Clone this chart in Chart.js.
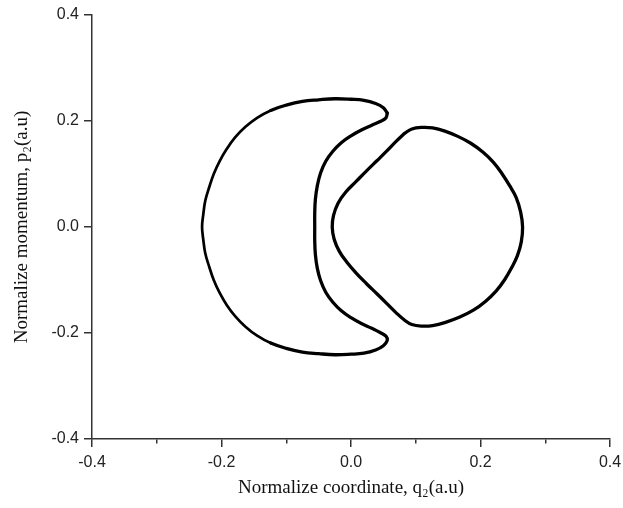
<!DOCTYPE html>
<html>
<head>
<meta charset="utf-8">
<script src="https://cdn.jsdelivr.net/npm/chart.js@4/dist/chart.umd.min.js"></script>
<style>
  html, body { margin: 0; padding: 0; background: #fff; }
  #wrap { width: 623px; height: 508px; }
</style>
</head>
<body>
<div id="wrap"><canvas id="phaseChart"></canvas></div>
<script>
// crescent-shaped orbit (left), q2 and p2, starting at the upper tip
const crescentQ = [
  0.056, 0.050, 0.038, 0.020, 0.000, -0.025, -0.050, -0.075, -0.100, -0.124,
  -0.145, -0.163, -0.179, -0.192, -0.203, -0.212, -0.219, -0.225, -0.228, -0.230,
  -0.228, -0.225, -0.219, -0.212, -0.203, -0.192, -0.179, -0.163, -0.145, -0.124,
  -0.100, -0.075, -0.050, -0.025, 0.000, 0.020, 0.038, 0.050, 0.056, 0.054,
  0.045, 0.032, 0.016, 0.000, -0.015, -0.028, -0.039, -0.047, -0.052, -0.055,
  -0.056, -0.056, -0.056, -0.055, -0.052, -0.047, -0.039, -0.028, -0.015, 0.000,
  0.016, 0.032, 0.045, 0.054, 0.056
];
const crescentP = [
  0.215, 0.225, 0.233, 0.239, 0.241, 0.242, 0.240, 0.237, 0.230, 0.220,
  0.206, 0.189, 0.169, 0.147, 0.124, 0.100, 0.075, 0.050, 0.025, 0.000,
  -0.025, -0.050, -0.075, -0.100, -0.124, -0.147, -0.168, -0.188, -0.205, -0.219,
  -0.229, -0.236, -0.239, -0.241, -0.240, -0.238, -0.232, -0.224, -0.214, -0.206,
  -0.199, -0.191, -0.182, -0.171, -0.158, -0.142, -0.123, -0.101, -0.078, -0.052,
  -0.026, 0.000, 0.026, 0.052, 0.078, 0.102, 0.124, 0.143, 0.159, 0.172,
  0.183, 0.192, 0.199, 0.206, 0.215
];

// D-shaped orbit (right), starting at its upper-left corner
const loopQ = [
  0.082, 0.094, 0.110, 0.126, 0.145, 0.165, 0.185, 0.204, 0.220, 0.233,
  0.245, 0.255, 0.262, 0.265, 0.263, 0.257, 0.248, 0.237, 0.224, 0.208,
  0.189, 0.168, 0.146, 0.126, 0.110, 0.094, 0.082, 0.069, 0.055, 0.040,
  0.024, 0.008, -0.006, -0.018, -0.026, -0.029, -0.027, -0.020, -0.008, 0.008,
  0.024, 0.040, 0.055, 0.070, 0.082
];
const loopP = [
  0.176, 0.185, 0.188, 0.187, 0.181, 0.171, 0.158, 0.141, 0.122, 0.101,
  0.078, 0.056, 0.028, 0.000, -0.028, -0.054, -0.077, -0.100, -0.121, -0.140,
  -0.157, -0.170, -0.180, -0.186, -0.187, -0.184, -0.175, -0.161, -0.144, -0.126,
  -0.107, -0.087, -0.067, -0.046, -0.023, 0.000, 0.022, 0.045, 0.066, 0.086,
  0.106, 0.125, 0.143, 0.162, 0.176
];

const tickValues = [-0.4, -0.3, -0.2, -0.1, 0.0, 0.1, 0.2, 0.3, 0.4];

const toPoints = (qs, ps) => qs.map((q, i) => ({ x: q, y: ps[i] }));
const isMajor = (v) => Math.abs(Math.round(v * 10)) % 2 === 0;
const tickLabel = (v) => (isMajor(v) ? (Math.abs(v) < 1e-9 ? 0 : v).toFixed(1) : "");

const axisColor = "#333";
const tickFont = { family: "Liberation Sans", size: 16 };
const titleFont = { family: "Liberation Serif", size: 19 };

function orbit(qs, ps) {
  return {
    data: toPoints(qs, ps),
    showLine: true,
    borderColor: "#000",
    borderWidth: 3.3,
    borderCapStyle: "round",
    pointRadius: 0,
    tension: 0.4,
    fill: false,
    // the far-left arc of the crescent is drawn a bit thinner in the original
    segment: {
      borderWidth: (ctx) => (ctx.p0.parsed.x < -0.1 && ctx.p1.parsed.x < -0.1 ? 2.7 : 3.3),
    },
  };
}

function axisGrid(side) {
  return {
    drawOnChartArea: false,
    drawTicks: true,
    tickLength: 8,
    color: axisColor,
    lineWidth: 1.5,
    // minor ticks: only the half next to the axis
    tickBorderDash: (ctx) => (ctx.tick && !isMajor(ctx.tick.value) ? [4, 8] : []),
    tickBorderDashOffset: (ctx) =>
      ctx.tick && !isMajor(ctx.tick.value) && side === "left" ? 4 : 0,
  };
}

new Chart(document.getElementById("phaseChart"), {
  type: "scatter",
  data: {
    datasets: [orbit(crescentQ, crescentP), orbit(loopQ, loopP)],
  },
  options: {
    responsive: true,
    maintainAspectRatio: false,
    animation: false,
    layout: { padding: { top: 15, right: 13, left: 0, bottom: 0 } },
    plugins: {
      legend: { display: false },
      tooltip: { enabled: false },
    },
    scales: {
      x: {
        type: "linear",
        min: tickValues[0],
        max: tickValues[tickValues.length - 1],
        afterBuildTicks: (scale) => {
          scale.ticks = tickValues.map((v) => ({ value: v }));
        },
        afterFit: (scale) => {
          scale.height = 69;
          scale.paddingLeft = 0;
          scale.paddingRight = 0;
        },
        border: { color: axisColor, width: 1.5 },
        grid: axisGrid("bottom"),
        ticks: {
          color: "#222",
          font: tickFont,
          padding: 6,
          maxRotation: 0,
          autoSkip: false,
          callback: tickLabel,
        },
        title: {
          display: true,
          text: "Normalize coordinate, q₂(a.u)",
          color: "#111",
          font: titleFont,
          padding: { top: 0, bottom: 9 },
        },
      },
      y: {
        type: "linear",
        min: tickValues[0],
        max: tickValues[tickValues.length - 1],
        afterBuildTicks: (scale) => {
          scale.ticks = tickValues.map((v) => ({ value: v }));
        },
        afterFit: (scale) => {
          scale.width = 92;
        },
        border: { color: axisColor, width: 1.5 },
        grid: axisGrid("left"),
        ticks: {
          color: "#222",
          font: tickFont,
          padding: 5,
          autoSkip: false,
          callback: tickLabel,
        },
        title: {
          display: true,
          text: "Normalize momentum, p₂(a.u)",
          color: "#111",
          font: titleFont,
          padding: { top: 11, bottom: 0 },
        },
      },
    },
  },
});
</script>
</body>
</html>
